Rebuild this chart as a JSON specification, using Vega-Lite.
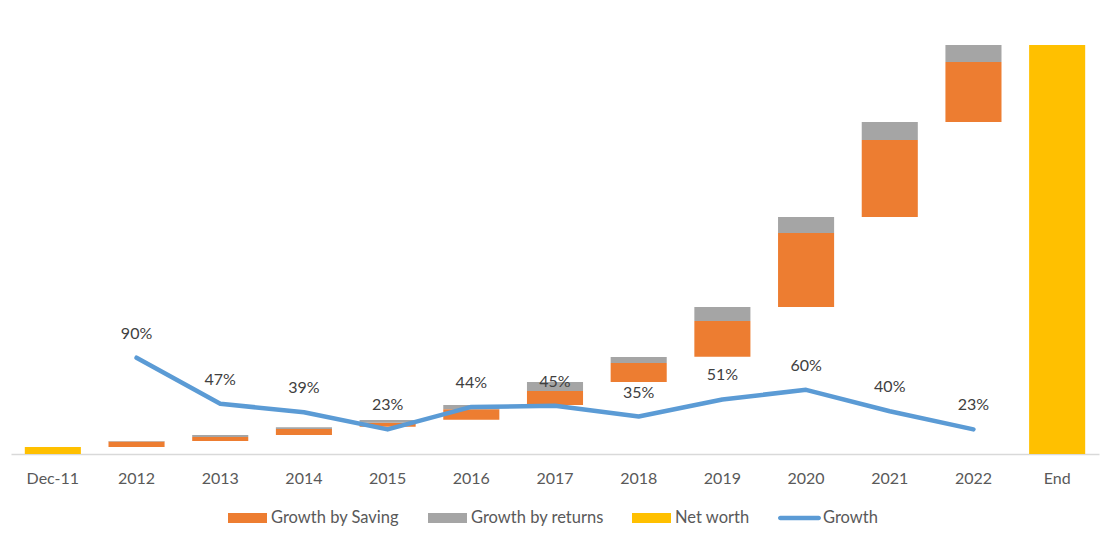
{
  "$schema": "https://vega.github.io/schema/vega-lite/v6.json",
  "width": 1088,
  "height": 444,
  "autosize": "none",
  "padding": {"left": 11, "top": 10, "right": 2, "bottom": 83},
  "background": "white",
  "config": {"view": {"stroke": null}, "font": "Lato"},
  "datasets": {
    "bars": [
      {"cat": "Dec-11", "series": "Net worth", "lo": 0, "hi": 7},
      {"cat": "2012", "series": "Growth by Saving", "lo": 7, "hi": 12.6},
      {"cat": "2012", "series": "Growth by returns", "lo": 12.6, "hi": 13},
      {"cat": "2013", "series": "Growth by Saving", "lo": 13, "hi": 17},
      {"cat": "2013", "series": "Growth by returns", "lo": 17, "hi": 19},
      {"cat": "2014", "series": "Growth by Saving", "lo": 19, "hi": 25},
      {"cat": "2014", "series": "Growth by returns", "lo": 25, "hi": 26.7},
      {"cat": "2015", "series": "Growth by Saving", "lo": 27.3, "hi": 31.3},
      {"cat": "2015", "series": "Growth by returns", "lo": 31.3, "hi": 34},
      {"cat": "2016", "series": "Growth by Saving", "lo": 34.3, "hi": 44.7},
      {"cat": "2016", "series": "Growth by returns", "lo": 44.7, "hi": 49},
      {"cat": "2017", "series": "Growth by Saving", "lo": 49, "hi": 63},
      {"cat": "2017", "series": "Growth by returns", "lo": 63, "hi": 72},
      {"cat": "2018", "series": "Growth by Saving", "lo": 72, "hi": 91},
      {"cat": "2018", "series": "Growth by returns", "lo": 91, "hi": 97},
      {"cat": "2019", "series": "Growth by Saving", "lo": 97.3, "hi": 133},
      {"cat": "2019", "series": "Growth by returns", "lo": 133, "hi": 147},
      {"cat": "2020", "series": "Growth by Saving", "lo": 147, "hi": 221},
      {"cat": "2020", "series": "Growth by returns", "lo": 221, "hi": 237},
      {"cat": "2021", "series": "Growth by Saving", "lo": 237, "hi": 314},
      {"cat": "2021", "series": "Growth by returns", "lo": 314, "hi": 332},
      {"cat": "2022", "series": "Growth by Saving", "lo": 332, "hi": 392},
      {"cat": "2022", "series": "Growth by returns", "lo": 392, "hi": 409},
      {"cat": "End", "series": "Net worth", "lo": 0, "hi": 409}
    ],
    "growth": [
      {"cat": "2012", "series": "Growth", "growth": 0.90},
      {"cat": "2013", "series": "Growth", "growth": 0.47},
      {"cat": "2014", "series": "Growth", "growth": 0.39},
      {"cat": "2015", "series": "Growth", "growth": 0.23},
      {"cat": "2016", "series": "Growth", "growth": 0.44},
      {"cat": "2017", "series": "Growth", "growth": 0.45},
      {"cat": "2018", "series": "Growth", "growth": 0.35},
      {"cat": "2019", "series": "Growth", "growth": 0.51},
      {"cat": "2020", "series": "Growth", "growth": 0.60},
      {"cat": "2021", "series": "Growth", "growth": 0.40},
      {"cat": "2022", "series": "Growth", "growth": 0.23}
    ]
  },
  "encoding": {
    "x": {
      "field": "cat",
      "type": "nominal",
      "scale": {
        "domain": ["Dec-11", "2012", "2013", "2014", "2015", "2016", "2017", "2018", "2019", "2020", "2021", "2022", "End"],
        "paddingInner": 0.33,
        "paddingOuter": 0.165
      },
      "axis": {
        "title": null,
        "labelAngle": 0,
        "ticks": false,
        "tickSize": 0,
        "labelPadding": 16,
        "labelFont": "Lato",
        "labelFontSize": 16,
        "labelColor": "#595959",
        "domainColor": "#D9D9D9",
        "domainWidth": 1.5,
        "grid": false
      }
    }
  },
  "layer": [
    {
      "data": {"name": "bars"},
      "mark": {"type": "bar"},
      "encoding": {
        "y": {"field": "lo", "type": "quantitative", "scale": {"domain": [0, 444], "nice": false}, "axis": null},
        "y2": {"field": "hi"},
        "color": {
          "field": "series",
          "type": "nominal",
          "scale": {
            "domain": ["Growth by Saving", "Growth by returns", "Net worth", "Growth"],
            "range": ["#ED7D31", "#A5A5A5", "#FFC000", "#5B9BD5"]
          },
          "legend": {
            "title": null,
            "orient": "none",
            "legendX": 217,
            "legendY": 488.5,
            "direction": "horizontal",
            "columns": 4,
            "columnPadding": 28,
            "padding": 0,
            "symbolSize": 1521,
            "symbolStrokeWidth": 0,
            "symbolType": "M-1,-0.2564L1,-0.2564L1,0.2564L-1,0.2564Z",
            "labelFont": "Lato",
            "labelFontSize": 16.5,
            "labelColor": "#595959",
            "labelOffset": 4,
            "labelLimit": 0,
            "encode": {
              "symbols": {
                "update": {
                  "size": {"value": 1521},
                  "strokeWidth": {"value": 0},
                  "shape": {"signal": "datum.value === 'Growth' ? 'M-0.985,-0.1154L0.985,-0.1154A0.1154,0.1154,0,0,1,0.985,0.1154L-0.985,0.1154A0.1154,0.1154,0,0,1,-0.985,-0.1154Z' : 'M-1,-0.2564L1,-0.2564L1,0.2564L-1,0.2564Z'"},
                  "fill": {"signal": "scale('color', datum.value)"},
                  "opacity": {"value": 1}
                }
              }
            }
          }
        }
      }
    },
    {
      "data": {"name": "growth"},
      "mark": {"type": "line", "strokeWidth": 4.5, "strokeCap": "round", "strokeJoin": "round"},
      "encoding": {
        "y": {"field": "growth", "type": "quantitative", "scale": {"domain": [0, 4.15], "nice": false}, "axis": null},
        "color": {"field": "series", "type": "nominal"}
      }
    },
    {
      "data": {"name": "growth"},
      "mark": {"type": "text", "dy": -24, "font": "Lato", "fontSize": 16, "color": "#404040"},
      "encoding": {
        "y": {"field": "growth", "type": "quantitative", "scale": {"domain": [0, 4.15], "nice": false}, "axis": null},
        "text": {"field": "growth", "type": "quantitative", "format": ".0%"}
      }
    }
  ],
  "resolve": {"scale": {"y": "independent"}}
}
